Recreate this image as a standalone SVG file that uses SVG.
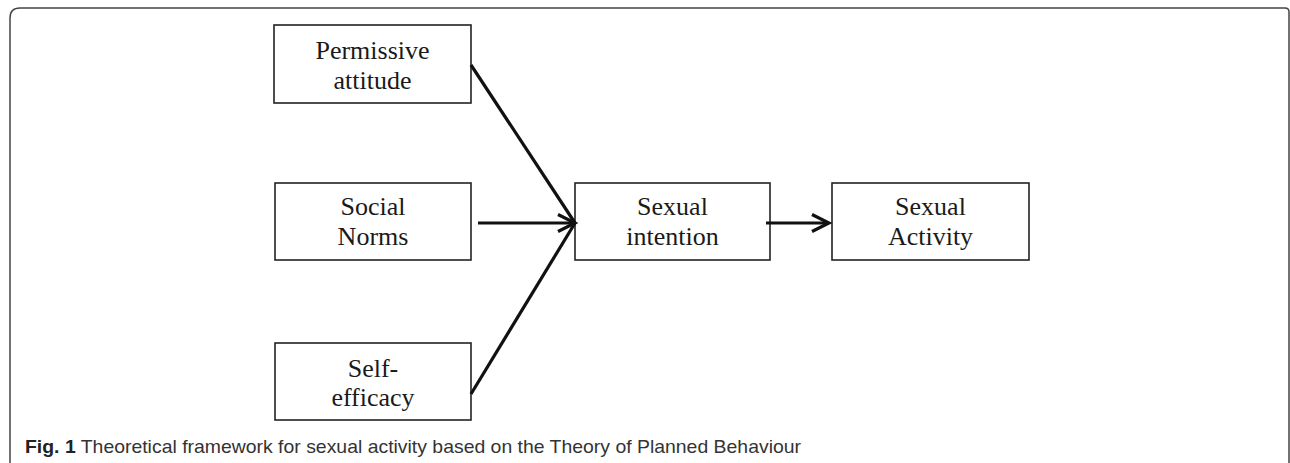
<svg xmlns="http://www.w3.org/2000/svg" width="1290" height="463" viewBox="0 0 1290 463">
<style>
.box{fill:#fff;stroke:#222;stroke-width:1.6}
.lbl{font-family:"Liberation Serif","Times New Roman",serif;font-size:26px;fill:#1a1a1a;text-anchor:middle}
.conn{stroke:#111;stroke-width:3.2;fill:none}
.cap{font-family:"Liberation Sans",Arial,sans-serif;font-size:19px;fill:#333}
</style>
<defs>
<marker id="arr" markerUnits="userSpaceOnUse" markerWidth="22" markerHeight="22" viewBox="0 0 22 22" refX="19" refY="11" orient="auto">
<path d="M2,2.5 L19,11 L2,19.5" fill="none" stroke="#111" stroke-width="3.2"/>
</marker>
</defs>
<path d="M10,480 V18 Q10,8 20,8 H1285 Q1289,8 1289,12 V480" fill="none" stroke="#444" stroke-width="1.5"/>
<g id="permissive">
<rect class="box" x="274" y="25" width="197" height="78"/>
<text class="lbl" x="372.5" y="59">Permissive</text>
<text class="lbl" x="372.5" y="89">attitude</text>
</g>
<g id="social">
<rect class="box" x="275" y="183" width="196" height="77"/>
<text class="lbl" x="373" y="215">Social</text>
<text class="lbl" x="373" y="245">Norms</text>
</g>
<g id="selfefficacy">
<rect class="box" x="275" y="343" width="196" height="77"/>
<text class="lbl" x="373" y="377">Self-</text>
<text class="lbl" x="373" y="406">efficacy</text>
</g>
<g id="intention">
<rect class="box" x="575" y="183" width="195" height="77"/>
<text class="lbl" x="672.5" y="215">Sexual</text>
<text class="lbl" x="672.5" y="245">intention</text>
</g>
<g id="activity">
<rect class="box" x="832" y="183" width="197" height="77"/>
<text class="lbl" x="930.5" y="215">Sexual</text>
<text class="lbl" x="930.5" y="245">Activity</text>
</g>
<g id="connectors">
<line class="conn" x1="471" y1="65" x2="575" y2="223"/>
<line class="conn" x1="471" y1="394" x2="575" y2="223"/>
<line class="conn" x1="478" y1="223" x2="575" y2="223" marker-end="url(#arr)"/>
<line class="conn" x1="766" y1="223" x2="829" y2="223" marker-end="url(#arr)"/>
</g>
<text class="cap" x="25" y="453" textLength="776" lengthAdjust="spacingAndGlyphs"><tspan font-weight="bold" fill="#222">Fig. 1</tspan> Theoretical framework for sexual activity based on the Theory of Planned Behaviour</text>
</svg>
